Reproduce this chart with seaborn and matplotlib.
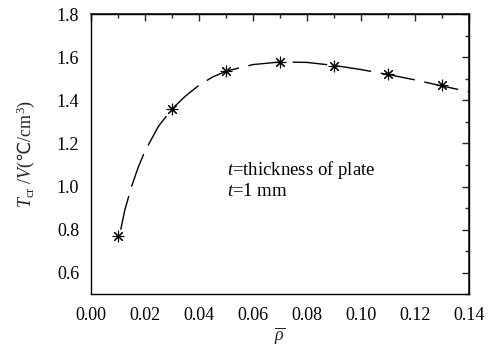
import matplotlib
matplotlib.use("Agg")
import matplotlib.pyplot as plt
import seaborn as sns
import pandas as pd
from matplotlib.ticker import MultipleLocator

# measured points
rho_pts = [0.01, 0.03, 0.05, 0.07, 0.09, 0.11, 0.13]
t_pts = [0.77, 1.36, 1.535, 1.578, 1.56, 1.52, 1.47]

# fitted dashed curve
rho_fit = [0.011, 0.0125, 0.015, 0.0175, 0.02, 0.025, 0.03, 0.035, 0.04, 0.045, 0.05,
           0.06, 0.07, 0.08, 0.09, 0.10, 0.11, 0.12, 0.13, 0.14]
t_fit = [0.80, 0.89, 1.00, 1.09, 1.165, 1.28, 1.36, 1.42, 1.47, 1.508, 1.535,
         1.566, 1.578, 1.576, 1.562, 1.543, 1.52, 1.495, 1.467, 1.44]

x_ticks = [0.00, 0.02, 0.04, 0.06, 0.08, 0.10, 0.12, 0.14]
y_ticks = [0.6, 0.8, 1.0, 1.2, 1.4, 1.6, 1.8]

sns.set_theme(style="white")
plt.rcParams['font.family'] = ['Liberation Serif', 'DejaVu Serif']
plt.rcParams['mathtext.fontset'] = 'custom'
plt.rcParams['mathtext.rm'] = 'Liberation Serif'
plt.rcParams['mathtext.it'] = 'Liberation Serif:italic'
plt.rcParams['mathtext.bf'] = 'Liberation Serif:bold'
plt.rcParams['mathtext.sf'] = 'Noto Sans CJK SC'

fig = plt.figure(figsize=(4.92, 3.53), dpi=100)
ax = fig.add_axes([0.185, 0.166, 0.768, 0.794])

df_fit = pd.DataFrame({"rho": rho_fit, "t": t_fit})
df_pts = pd.DataFrame({"rho": rho_pts, "t": t_pts})

sns.lineplot(data=df_fit, x="rho", y="t", ax=ax, color="black", lw=1.0, sort=True)
ax.lines[-1].set_dashes([25, 7])
sns.scatterplot(data=df_pts, x="rho", y="t", ax=ax, marker=(8, 2, 0), s=60,
                color="black", linewidth=0.8, edgecolor="black", zorder=5)

ax.set_xlim(0, 0.14)
ax.set_ylim(0.5, 1.8)
ax.set_xticks(x_ticks)
ax.set_xticklabels([f"{v:.2f}" for v in x_ticks])
ax.set_yticks(y_ticks)
ax.set_yticklabels([f"{v:.1f}" for v in y_ticks])
ax.xaxis.set_minor_locator(MultipleLocator(0.01))
ax.yaxis.set_minor_locator(MultipleLocator(0.1))
ax.set_xlim(0, 0.14)
ax.set_ylim(0.5, 1.8)

for s in ax.spines.values():
    s.set_visible(True)
    s.set_color("black")
    s.set_linewidth(1.0)

ax.tick_params(which="both", direction="out", colors="black", labelsize=13,
               top=False, right=False)
ax.tick_params(which="major", length=5, width=1)
ax.tick_params(which="minor", length=3, width=1)
ax.tick_params(axis="x", pad=4)

# inward ticks on top and right
ax2 = ax.secondary_xaxis('top')
ax2.xaxis.set_major_locator(MultipleLocator(0.02))
ax2.xaxis.set_minor_locator(MultipleLocator(0.01))
ax2.tick_params(which="both", direction="in", labeltop=False)
ax2.tick_params(which="major", length=5, width=1)
ax2.tick_params(which="minor", length=3, width=1)
ax3 = ax.secondary_yaxis('right')
ax3.yaxis.set_major_locator(MultipleLocator(0.2))
ax3.yaxis.set_minor_locator(MultipleLocator(0.1))
ax3.tick_params(which="both", direction="in", labelright=False)
ax3.tick_params(which="major", length=5, width=1)
ax3.tick_params(which="minor", length=3, width=1)

ax.set_xlabel(r"$\overline{\rho}$", fontsize=13, labelpad=1)
ax.set_ylabel(r"$T_{\mathrm{cr}}$ /$V$($\mathsf{℃}$/cm$^3$)", fontsize=13, labelpad=14)

ax.text(0.0505, 1.055, r"$t$=thickness of plate", fontsize=13.5, color="black")
ax.text(0.0505, 0.955, r"$t$=1 mm", fontsize=13.5, color="black")

fig.savefig("out.png", dpi=100)
